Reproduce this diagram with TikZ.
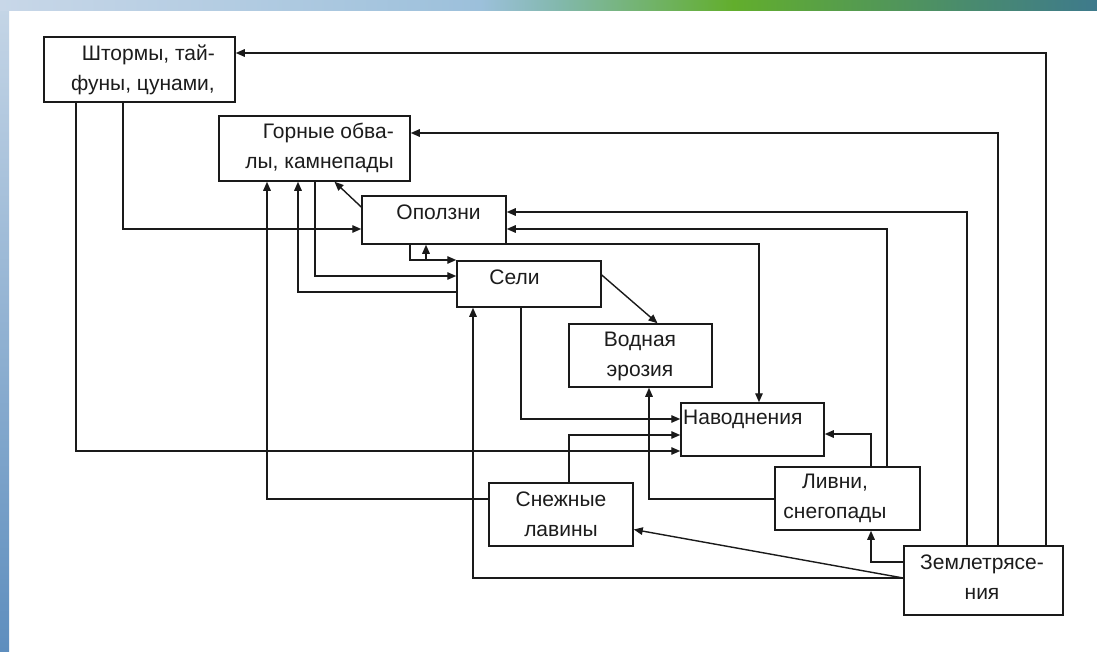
\documentclass[tikz,border=0pt]{standalone}
\usepackage{fontspec}
\setmainfont{Liberation Sans}
\usetikzlibrary{arrows.meta}
\definecolor{lnc}{HTML}{1A1A1A}
\definecolor{txc}{HTML}{1C1C1C}
\definecolor{ba}{HTML}{C8D7E8}
\definecolor{bb}{HTML}{9CC0DB}
\definecolor{bc}{HTML}{82B8AC}
\definecolor{bd}{HTML}{62AE2C}
\definecolor{be}{HTML}{4A8C6C}
\definecolor{bf}{HTML}{3E7A8C}
\definecolor{la}{HTML}{C4D5E6}
\definecolor{lb}{HTML}{5E8EBE}
\begin{document}
\begin{tikzpicture}[x=1pt,y=-1pt,
  box/.style={draw=lnc,line width=1.5pt,fill=white,inner sep=0pt},
  txt/.style={font=\fontsize{21}{30}\selectfont,text=txc,inner sep=0pt},
  arr/.style={draw=lnc,line width=1.4pt,-{Triangle[length=9pt,width=7.5pt]}}]
\useasboundingbox (0,0) rectangle (1097,651);
\fill[white] (0,0) rectangle (1097,651);
% background bands
\shade[top color=la,bottom color=lb] (0,10) rectangle (9,651);
\shade[left color=ba,right color=bb] (0,0) rectangle (480,10);
\shade[left color=bb,right color=bc] (479.5,0) rectangle (560,10);
\shade[left color=bc,right color=bd] (559.5,0) rectangle (734,10);
\shade[left color=bd,right color=be] (733.5,0) rectangle (960,10);
\shade[left color=be,right color=bf] (959.5,0) rectangle (1097,10);
% boxes
\node[box,minimum width=191pt,minimum height=65pt] (shtorm) at (139.5,69.5) {};
\node[box,minimum width=191pt,minimum height=65pt] (gorn) at (314.5,148.5) {};
\node[box,minimum width=144pt,minimum height=48pt] (opol) at (434,220) {};
\node[box,minimum width=144pt,minimum height=46pt] (seli) at (529,284) {};
\node[box,minimum width=143pt,minimum height=63pt] (vod) at (640.5,355.5) {};
\node[box,minimum width=143pt,minimum height=53pt] (navod) at (752.5,429.5) {};
\node[box,minimum width=145pt,minimum height=63pt] (livni) at (847.5,498.5) {};
\node[box,minimum width=159pt,minimum height=69pt] (zem) at (983.5,580.5) {};
\node[box,minimum width=144pt,minimum height=63pt] (snezh) at (561,514.5) {};
% bend coordinates
\coordinate (k1) at (1046,53);
\coordinate (k2) at (998,133);
\coordinate (k3) at (967,212);
\coordinate (k4) at (887,229);
\coordinate (k5) at (759,244);
\coordinate (k8) at (123,229);
\coordinate (k9) at (76,451);
\coordinate (k10) at (315,276);
\coordinate (k11) at (298,292);
\coordinate (k12) at (267,499);
\coordinate (k13) at (410,260);
\coordinate (k14) at (426,260);
\coordinate (k15) at (473,578);
\coordinate (k17) at (871,562);
\coordinate (k18) at (871,434);
\coordinate (k19) at (649,499);
\coordinate (k20) at (569,435);
\coordinate (k21) at (521,419);
% connectors
\draw[arr] (zem.north -| k1) |- (shtorm.east |- k1);
\draw[arr] (zem.north -| k2) |- (gorn.east |- k2);
\draw[arr] (zem.north -| k3) |- (opol.east |- k3);
\draw[arr] (livni.north -| k4) |- (opol.east |- k4);
\draw[arr] (opol.east |- k5) -- (k5) -- (navod.north -| k5);
\draw[arr] ([yshift=9pt]seli.east) -- ([xshift=17pt]vod.north);
\draw[arr] ([yshift=13pt]opol.west) -- ([xshift=20pt]gorn.south);
\draw[arr] (shtorm.south -| k8) |- (opol.west |- k8);
\draw[arr] (shtorm.south -| k9) |- (navod.west |- k9);
\draw[arr] (gorn.south -| k10) |- (seli.west |- k10);
\draw[arr] (seli.west |- k11) -| (gorn.south -| k11);
\draw[arr] (snezh.west |- k12) -| (gorn.south -| k12);
\draw[arr] (opol.south -| k13) |- (seli.west |- k13);
\draw[arr] (seli.north -| k14) -- (opol.south -| k14);
\draw[arr] (zem.west |- k15) -| (seli.south -| k15);
\draw[arr] (zem.west |- k15) -- ([yshift=-15pt]snezh.east);
\draw[arr] (zem.west |- k17) -| (livni.south -| k17);
\draw[arr] (livni.north -| k18) |- (navod.east |- k18);
\draw[arr] (livni.west |- k19) -| (vod.south -| k19);
\draw[arr] (snezh.north -| k20) |- (navod.west |- k20);
\draw[arr] (seli.south -| k21) |- (navod.west |- k21);
% texts
\node[txt,align=right,anchor=east] (shtorm-t) at (215,70) {Штормы, тай-\\фуны, цунами,};
\node[txt,align=right,anchor=east] (gorn-t) at (394,148) {Горные обва-\\лы, камнепады};
\node[txt] (opol-t) at (438.5,212) {Оползни};
\node[txt] (seli-t) at (514.5,277) {Сели};
\node[txt,align=center] (vod-t) at (640,356) {Водная\\эрозия};
\node[txt,anchor=west] (navod-t) at (683,419) {Наводнения};
\node[txt,align=center] (livni-t) at (835,498) {Ливни,\\снегопады};
\node[txt,align=center] (zem-t) at (982,577) {Землетрясе-\\ния};
\node[txt,align=center] (snezh-t) at (561,514) {Снежные\\лавины};
\end{tikzpicture}
\end{document}
